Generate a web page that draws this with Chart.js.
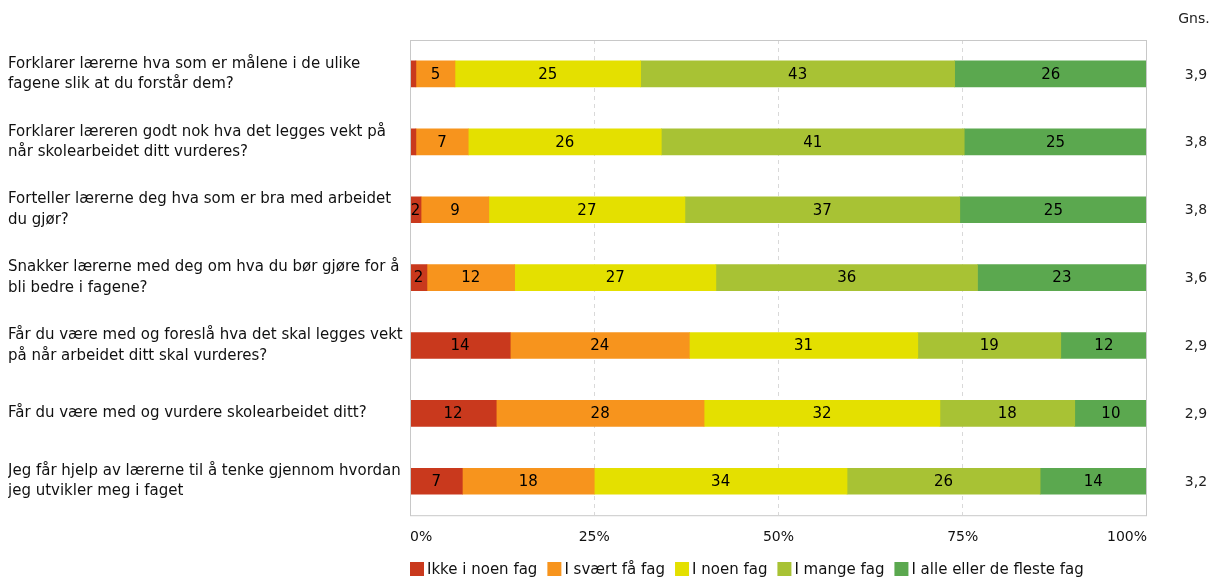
<!DOCTYPE html>
<html>
<head>
<meta charset="utf-8">
<script src="https://cdn.jsdelivr.net/npm/chart.js@4/dist/chart.umd.min.js"></script>
<style>
  html, body { margin:0; padding:0; background:#fff; }
  #wrap { width:1213px; height:578px; position:relative; }
</style>
</head>
<body>
<div id="wrap"><canvas id="c" width="1213" height="578"></canvas></div>
<script>
// spørsmål (kategorier)
const questions = [
  ['Forklarer lærerne hva som er målene i de ulike', 'fagene slik at du forstår dem?'],
  ['Forklarer læreren godt nok hva det legges vekt på', 'når skolearbeidet ditt vurderes?'],
  ['Forteller lærerne deg hva som er bra med arbeidet', 'du gjør?'],
  ['Snakker lærerne med deg om hva du bør gjøre for å', 'bli bedre i fagene?'],
  ['Får du være med og foreslå hva det skal legges vekt', 'på når arbeidet ditt skal vurderes?'],
  ['Får du være med og vurdere skolearbeidet ditt?'],
  ['Jeg får hjelp av lærerne til å tenke gjennom hvordan', 'jeg utvikler meg i faget']
];

const seriesNames = ['Ikke i noen fag', 'I svært få fag', 'I noen fag', 'I mange fag', 'I alle eller de fleste fag'];
const seriesColors = ['#c9391d', '#f7941d', '#e4e000', '#a8c234', '#5ba84f'];

// prosent per spørsmål
const ikke   = [0.8, 0.8, 1.5, 2.3, 13.6, 11.7, 7.1];
const faa    = [5.3, 7.1, 9.2, 11.9, 24.3, 28.2, 17.9];
const noen   = [25.2, 26.2, 26.6, 27.3, 31.0, 32.0, 34.3];
const mange  = [42.6, 41.1, 37.3, 35.5, 19.4, 18.3, 26.2];
const alle   = [26.1, 24.8, 25.4, 22.9, 11.7, 9.8, 14.4];

const gns = ['3,9', '3,8', '3,8', '3,6', '2,9', '2,9', '3,2'];
const xTicks = [0, 25, 50, 75, 100];

const FONT = 'DejaVu Sans, Verdana, sans-serif';

// Tekst i søylene, gjennomsnitt, ramme og tegnforklaring
const extras = {
  id: 'extras',
  afterDatasetsDraw(chart){
    const ctx = chart.ctx;
    const a = chart.chartArea;
    ctx.save();
    ctx.font = '15px ' + FONT;
    ctx.fillStyle = '#000';
    ctx.textAlign = 'center';
    ctx.textBaseline = 'middle';
    chart.data.datasets.forEach((ds, di)=>{
      chart.getDatasetMeta(di).data.forEach((bar, i)=>{
        const v = ds.data[i];
        if (v < 1.5) return;
        ctx.fillText(String(Math.round(v)), (bar.x + bar.base)/2, bar.y + 1);
      });
    });
    const y = chart.scales.y;
    ctx.fillStyle = '#222';
    ctx.font = '14px ' + FONT;
    gns.forEach((g,i)=> ctx.fillText(g, 1196, y.getPixelForValue(i) + 1));
    ctx.fillText('Gns.', 1194, 19);

    // ramme
    ctx.strokeStyle = '#c8c8c8';
    ctx.lineWidth = 1;
    ctx.strokeRect(a.left + 0.5, a.top + 0.5, a.right - a.left - 1, a.bottom - a.top);

    // tegnforklaring
    ctx.font = '15px ' + FONT;
    ctx.textAlign = 'left';
    ctx.fillStyle = '#111';
    let x = a.left;
    const ly = 569;
    seriesNames.forEach((n,i)=>{
      ctx.fillStyle = seriesColors[i];
      ctx.fillRect(x, ly - 7, 14, 14);
      ctx.fillStyle = '#111';
      ctx.fillText(n, x + 17, ly + 1);
      x += 17 + ctx.measureText(n).width + 10;
    });
    ctx.restore();
  }
};

const datasets = [ikke, faa, noen, mange, alle].map((d,i)=>({
  label: seriesNames[i],
  data: d,
  backgroundColor: seriesColors[i],
  borderWidth: 0,
  barThickness: 26
}));

new Chart(document.getElementById('c'), {
  type: 'bar',
  data: { labels: questions, datasets },
  plugins: [extras],
  options: {
    indexAxis: 'y',
    responsive: false,
    animation: false,
    layout: { padding: { left: 8, right: 66, top: 40, bottom: 18 } },
    plugins: {
      tooltip: { enabled: false },
      legend: { display: false }
    },
    scales: {
      x: {
        stacked: true, min: 0, max: 100,
        afterBuildTicks(s){ s.ticks = xTicks.map(v=>({ value: v })); },
        border: { display: false, dash: [4, 4] },
        grid: { color: '#d9d9d9', drawTicks: false, lineWidth: (c)=> (c.tick && (c.tick.value===0 || c.tick.value===100)) ? 0 : 1 },
        ticks: { align: 'inner', padding: 14, color: '#111', font: { family: FONT, size: 14 }, callback: (v)=> v + '%' }
      },
      y: {
        stacked: true,
        afterFit(s){ s.width = 402; },
        border: { display: false },
        grid: { display: false },
        ticks: { crossAlign: 'far', color: '#111', font: { family: FONT, size: 15, lineHeight: 1.35 } }
      }
    }
  }
});
</script>
</body>
</html>
